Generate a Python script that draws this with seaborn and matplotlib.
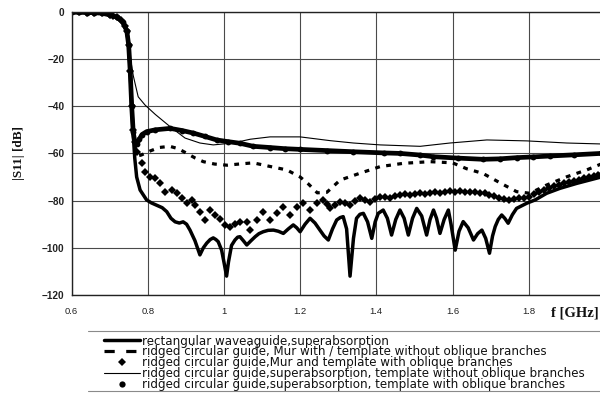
import matplotlib
matplotlib.use("Agg")
import matplotlib.pyplot as plt
from matplotlib.lines import Line2D
import seaborn as sns

# |S11| reflection of the test structures versus frequency
labels = [
    "rectangular waveaguide,superabsorption",
    "ridged circular guide, Mur with / template without oblique branches",
    "ridged circular guide,Mur and template with oblique branches",
    "ridged circular guide,superabsorption, template without oblique branches",
    "ridged circular guide,superabsorption, template with oblique branches",
]

# rectangular waveguide, superabsorption
rect_f = [0.60, 0.64, 0.68, 0.70, 0.72, 0.735, 0.745, 0.750, 0.754, 0.758, 0.762, 0.766,
          0.771, 0.780, 0.797, 0.810, 0.824, 0.838, 0.850, 0.861, 0.872, 0.883, 0.893,
          0.902, 0.911, 0.924, 0.937, 0.946, 0.955, 0.964, 0.972, 0.979, 0.985, 0.994,
          1.000, 1.007, 1.012, 1.020, 1.029, 1.036, 1.042, 1.051, 1.060, 1.071, 1.082,
          1.092, 1.103, 1.116, 1.130, 1.143, 1.156, 1.169, 1.182, 1.191, 1.200, 1.213,
          1.226, 1.239, 1.252, 1.263, 1.274, 1.285, 1.296, 1.305, 1.313, 1.322, 1.331,
          1.340, 1.348, 1.357, 1.366, 1.377, 1.388, 1.397, 1.405, 1.418, 1.429, 1.440,
          1.451, 1.462, 1.473, 1.484, 1.495, 1.506, 1.519, 1.532, 1.541, 1.550, 1.558,
          1.567, 1.578, 1.589, 1.596, 1.607, 1.617, 1.628, 1.641, 1.655, 1.666, 1.677,
          1.687, 1.697, 1.705, 1.712, 1.720, 1.729, 1.737, 1.746, 1.757, 1.768, 1.795,
          1.817, 1.847, 1.882, 1.926, 1.990]
rect_s11 = [-0.2, -0.3, -0.6, -1.3, -2.3, -4.5, -8, -14, -25, -40, -52, -62,
            -70, -75.5, -79.7, -81, -82, -83, -84.7, -87.5, -89, -89.5, -89,
            -90, -92.5, -97, -103, -100, -98, -96.5, -95.8, -96.5, -97.4, -101,
            -106, -112, -106, -99, -96.7, -95.5, -95.3, -97, -98.8, -97, -95.3,
            -94, -93.2, -92.6, -92.5, -93, -93.9, -92, -90.3, -91.5, -93.2, -90,
            -87.5, -89.5, -92.5, -95, -96.7, -92, -88.2, -87.2, -86.8, -92, -112,
            -96, -87.5, -85.8, -85.4, -89, -96, -89, -85.4, -84, -87.5, -94.6,
            -88, -84, -87.5, -94.6, -87.5, -83.3, -86.5, -94.6, -88, -84, -87.5,
            -93.9, -88, -84, -90, -101, -93, -88.9, -91.5, -96.7, -94, -92.5,
            -96, -102.3, -95, -91, -88, -86.1, -87.5, -89.6, -86, -83.3, -81.1,
            -79.7, -76.9, -74.8, -72.7, -70]

# ridged guide, Mur with / template without oblique branches
mur_f = [0.60, 0.64, 0.68, 0.70, 0.72, 0.735, 0.745, 0.750, 0.754, 0.758, 0.762, 0.768,
         0.775, 0.783, 0.806, 0.830, 0.858, 0.880, 0.903, 0.925, 0.946, 0.975, 1.008,
         1.040, 1.077, 1.120, 1.165, 1.200, 1.222, 1.245, 1.270, 1.305, 1.357, 1.410,
         1.471, 1.541, 1.600, 1.637, 1.680, 1.725, 1.768, 1.803, 1.847, 1.900, 1.952,
         1.990]
mur_s11 = [-0.2, -0.3, -0.6, -1.3, -2.3, -4.5, -8, -14, -25, -40, -51, -58,
           -61, -60.7, -59, -57.5, -57, -58, -60, -62, -63.5, -64.5, -65,
           -64.5, -64, -65.5, -67, -70, -73, -76.7, -76.5, -71.3, -68.4, -65.6,
           -64.2, -63.5, -64, -66.5, -68.5, -72.5, -76.2, -76.9, -73.4, -69.9, -67,
           -64.5]

# ridged guide, Mur and template with oblique branches
murobl_f = [0.60, 0.62, 0.64, 0.66, 0.68, 0.70, 0.71, 0.72, 0.73, 0.74, 0.745, 0.750,
            0.754, 0.758, 0.762, 0.766, 0.771, 0.784, 0.793, 0.806, 0.819, 0.832, 0.845,
            0.863, 0.876, 0.889, 0.902, 0.915, 0.924, 0.937, 0.950, 0.963, 0.977, 0.990,
            1.003, 1.016, 1.029, 1.042, 1.060, 1.068, 1.086, 1.103, 1.121, 1.139, 1.156,
            1.173, 1.191, 1.208, 1.226, 1.244, 1.261,
            1.270, 1.278, 1.291, 1.305, 1.318, 1.331, 1.344, 1.357, 1.370, 1.383, 1.396,
            1.410, 1.423, 1.436, 1.449, 1.462, 1.475, 1.488, 1.501, 1.515, 1.528, 1.541,
            1.554, 1.567, 1.580, 1.593, 1.606, 1.619, 1.632, 1.645, 1.658, 1.671, 1.684,
            1.697, 1.710, 1.723, 1.736, 1.749, 1.762, 1.775, 1.788, 1.801, 1.814, 1.827,
            1.840, 1.853, 1.866, 1.879, 1.892, 1.905, 1.918, 1.931, 1.944, 1.957, 1.970,
            1.983, 1.990]
murobl_s11 = [-0.2, -0.2, -0.3, -0.4, -0.6, -1.3, -1.7, -2.3, -3.5, -6, -8, -14,
              -25, -40, -50, -55, -59.3, -64.2, -67.8, -69.9, -70.6, -72.7, -76.2,
              -75.5, -76.9, -79, -81.1, -79.7, -81.9, -84.7, -88.2, -84, -86.1, -88,
              -90.3, -91, -90, -88.9, -88.9, -92.5, -88.2, -84.7, -88.2, -85.4, -82.6,
              -86.1, -82.6, -81.1, -84, -81.1, -79.7,
              -81.5, -83.3, -82.0, -80.5, -81.0, -81.9, -80.2, -79.0, -79.6, -80.5, -79.2,
              -78.3, -78.6, -79.0, -78.2, -77.7, -77.4, -77.8, -77.2, -76.9, -77.1, -76.6,
              -76.3, -76.8, -76.2, -75.9, -76.3, -76.0, -76.2, -76.5, -76.3, -76.7, -76.9,
              -77.6, -78.2, -78.9, -79.4, -79.7, -79.5, -79.0, -78.7, -78.3, -77.4, -76.3,
              -75.6, -74.7, -73.8, -73.2, -72.6, -72.0, -71.6, -71.1, -70.6, -70.1, -69.7,
              -69.3, -69.0]

# ridged guide, superabsorption, template without oblique branches
sa_f = [0.60, 0.64, 0.68, 0.70, 0.72, 0.735, 0.745, 0.750, 0.755, 0.762, 0.775, 0.793,
        0.820, 0.859, 0.898, 0.937, 0.972, 1.024, 1.069, 1.121, 1.200, 1.279, 1.340,
        1.410, 1.515, 1.593, 1.690, 1.795, 1.900, 1.990]
sa_s11 = [-0.2, -0.3, -0.6, -1.3, -2.3, -4.5, -8, -13, -20, -27, -36, -39.5,
          -43.5, -48.7, -53.5, -55.6, -56.4, -55.6, -54, -53, -53, -54.6, -55.6,
          -56.4, -57, -55.6, -54.3, -54.7, -55.6, -56]

# ridged guide, superabsorption, template with oblique branches
saobl_f = [0.60, 0.62, 0.64, 0.66, 0.68, 0.70, 0.72, 0.735, 0.745, 0.750, 0.754, 0.758,
           0.762, 0.766, 0.772, 0.778, 0.785, 0.797, 0.820, 0.859, 0.890, 0.920, 0.950,
           0.981, 1.010, 1.042, 1.077, 1.120, 1.160, 1.200, 1.270, 1.340, 1.420, 1.462,
           1.515, 1.550, 1.615, 1.680, 1.725, 1.768, 1.810, 1.856, 1.920, 1.990]
saobl_s11 = [-0.2, -0.2, -0.3, -0.4, -0.6, -1.3, -2.3, -4.5, -8, -14, -25, -40,
             -51, -55, -56, -54, -52, -50.8, -50, -49.4, -50.3, -51.4, -52.8,
             -54.3, -55, -55.7, -57, -57.5, -58, -58.3, -58.8, -59.3, -59.8, -60,
             -60.7, -61.4, -62, -62.5, -62.3, -61.8, -61.5, -61.1, -60.6, -60]

x_ticks = [0.6, 0.8, 1.0, 1.2, 1.4, 1.6, 1.8]
x_ticklabels = ["0.6", "0.8", "1", "1.2", "1.4", "1.6", "1.8"]
y_ticks = [0, -20, -40, -60, -80, -100, -120]

sns.set_theme(style="white")
plt.rcParams["font.family"] = ["Liberation Sans", "DejaVu Sans"]

fig = plt.figure(figsize=(6.0, 3.93), dpi=100)
W, H = 600.0, 393.0
ax = fig.add_axes([71.5 / W, 1 - 295 / H, (600 - 71.5) / W, (295 - 11.8) / H])

ax.set_xlim(0.6, 1.987)
ax.set_ylim(-120, 0)
ax.set_xticks(x_ticks)
ax.set_xticklabels(x_ticklabels)
ax.set_yticks(y_ticks)
ax.grid(True, color="#4a4a4a", lw=0.8)
ax.set_axisbelow(True)
for side in ("left", "bottom", "top"):
    ax.spines[side].set_color("#222222")
    ax.spines[side].set_linewidth(1.0)
ax.spines["right"].set_visible(False)
ax.tick_params(axis="x", labelsize=6.8, length=2, pad=7, colors="#222222")
ax.tick_params(axis="y", labelsize=7.2, length=3, pad=2, colors="#222222")
for t in ax.get_yticklabels():
    t.set_fontweight("bold")

sns.lineplot(x=sa_f, y=sa_s11, ax=ax, color="black", lw=0.8, sort=False,
             estimator=None)
sns.lineplot(x=mur_f, y=mur_s11, ax=ax, color="black", lw=2.3, sort=False,
             estimator=None, linestyle=(0, (1.5, 2.0)), dash_capstyle="butt")
sns.lineplot(x=murobl_f, y=murobl_s11, ax=ax, color="black", linestyle="None",
             marker="D", markersize=3.6, markeredgewidth=0, sort=False,
             estimator=None)
sns.lineplot(x=saobl_f, y=saobl_s11, ax=ax, color="black", lw=3.4, marker="o",
             markersize=4.2, markeredgewidth=0, sort=False, estimator=None)
sns.lineplot(x=rect_f, y=rect_s11, ax=ax, color="black", lw=2.5, sort=False,
             estimator=None)

ax.set_ylabel("|S11| [dB]", family=["Liberation Serif"], fontweight="bold",
              fontsize=9.5, color="#111111")
ax.yaxis.set_label_coords(-0.088, 0.5)
ax.set_xlabel("f [GHz]", family=["Liberation Serif"], fontweight="bold",
              fontsize=10.5, color="#111111")
ax.xaxis.set_label_coords(0.9985, -0.040)
ax.xaxis.label.set_horizontalalignment("right")

# legend keys: one symbol per series
keys = [
    Line2D([], [], color="black", lw=2.5),
    Line2D([], [], color="black", lw=2.3, linestyle=(0, (3.2, 3.6)),
           dash_capstyle="butt"),
    Line2D([], [], color="black", linestyle="None", marker="D", markersize=3.6,
           markeredgewidth=0),
    Line2D([], [], color="black", lw=0.8),
    Line2D([], [], color="black", linestyle="None", marker="o", markersize=4.5,
           markeredgewidth=0),
]
leg = fig.legend(keys, labels, loc="upper left",
                 bbox_to_anchor=(104 / W, 1 - 334.5 / H),
                 frameon=False, handlelength=3.0, handletextpad=0.2,
                 labelspacing=-0.17, borderpad=0, borderaxespad=0, numpoints=1,
                 prop={"family": ["DejaVu Sans"], "size": 8.6})
for t in leg.get_texts():
    t.set_color("#111111")

for yy in (331, 391):
    fig.add_artist(Line2D([88 / W, 1.0], [1 - yy / H, 1 - yy / H],
                          transform=fig.transFigure, color="#8a8a8a", lw=0.8))

fig.savefig("out.png", dpi=100)
